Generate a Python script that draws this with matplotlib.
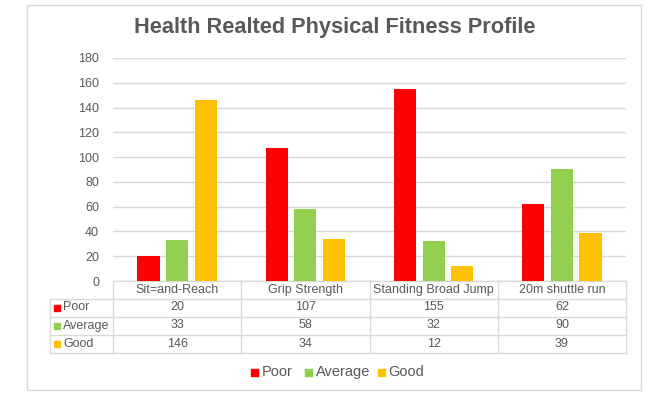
import matplotlib
matplotlib.use("Agg")
import matplotlib.pyplot as plt
from matplotlib.patches import Rectangle
from matplotlib.lines import Line2D

categories = ["Sit=and-Reach", "Grip Strength", "Standing Broad Jump", "20m shuttle run"]
series_names = ["Poor", "Average", "Good"]
poor = [20, 107, 155, 62]
average = [33, 58, 32, 90]
good = [146, 34, 12, 39]
yticks = [0, 20, 40, 60, 80, 100, 120, 140, 160, 180]
title = "Health Realted Physical Fitness Profile"

colors = ["#FF0000", "#92D050", "#FFC000"]
series = [poor, average, good]
TXT = "#595959"
GRID = "#d9d9d9"
FONT = "Liberation Sans"
plt.rcParams['font.family'] = [FONT, 'DejaVu Sans']

W, H = 660, 397
fig = plt.figure(figsize=(W / 100, H / 100), dpi=100)

# overlay in pixel coordinates
ov = fig.add_axes([0, 0, 1, 1], zorder=0)
ov.set_xlim(0, W)
ov.set_ylim(H, 0)
ov.axis("off")

# outer border
ov.add_patch(Rectangle((27, 5), 614, 385, fill=False, edgecolor=GRID, linewidth=1))

# plot area
x0, x1 = 113, 626
ytop, ybot = 58, 281
ax = fig.add_axes([x0 / W, 1 - ybot / H, (x1 - x0) / W, (ybot - ytop) / H], zorder=1)
ax.patch.set_alpha(0)
n = len(categories)
offs = [-0.223, 0, 0.223]
bw = 0.172
for i, (vals, c) in enumerate(zip(series, colors)):
    ax.bar([k + offs[i] for k in range(n)], vals, width=bw, color=c, zorder=3)
ax.set_xlim(-0.5, n - 0.5)
ax.set_ylim(0, 180)
ax.set_yticks(yticks)
ax.set_yticklabels([str(t) for t in yticks], fontsize=9, color=TXT)
ax.tick_params(axis="y", length=0, pad=10)
ax.set_xticks([])
ax.grid(axis="y", color=GRID, linewidth=1, zorder=0)
for s in ["top", "right", "left"]:
    ax.spines[s].set_visible(False)
ax.spines["bottom"].set_color(GRID)
ax.spines["bottom"].set_linewidth(1)

# title
ov.text(335, 28, title, ha="center", va="center", fontsize=15.7, fontweight="bold", color=TXT)

# data table
col_edges = [x0 + (x1 - x0) * k / n for k in range(n + 1)]
row_edges = [281, 298.5, 316.5, 334.5, 353]
keyx = 50
lw = 1
for xe in col_edges:
    ov.add_line(Line2D([xe, xe], [row_edges[0], row_edges[-1]], color=GRID, lw=lw))
ov.add_line(Line2D([keyx, keyx], [row_edges[1], row_edges[-1]], color=GRID, lw=lw))
for ye in row_edges[1:]:
    ov.add_line(Line2D([keyx, x1], [ye, ye], color=GRID, lw=lw))

for k, cat in enumerate(categories):
    cx = (col_edges[k] + col_edges[k + 1]) / 2
    ov.text(cx, (row_edges[0] + row_edges[1]) / 2, cat, ha="center", va="center", fontsize=9, color=TXT)
    for r, vals in enumerate(series):
        ov.text(cx, (row_edges[r + 1] + row_edges[r + 2]) / 2, str(vals[k]),
                ha="center", va="center", fontsize=9, color=TXT)

for r, (name, c) in enumerate(zip(series_names, colors)):
    yc = (row_edges[r + 1] + row_edges[r + 2]) / 2
    ov.add_patch(Rectangle((54, yc - 3), 6, 6, color=c))
    ov.text(63, yc, name, ha="left", va="center", fontsize=9, color=TXT)

# legend
leg_x = [251, 305, 378]
for name, c, lx in zip(series_names, colors, leg_x):
    ov.add_patch(Rectangle((lx, 368.5), 7, 7, color=c))
    ov.text(lx + 10.5, 372, name, ha="left", va="center", fontsize=10.5, color=TXT)

fig.savefig("out.png", dpi=100)
